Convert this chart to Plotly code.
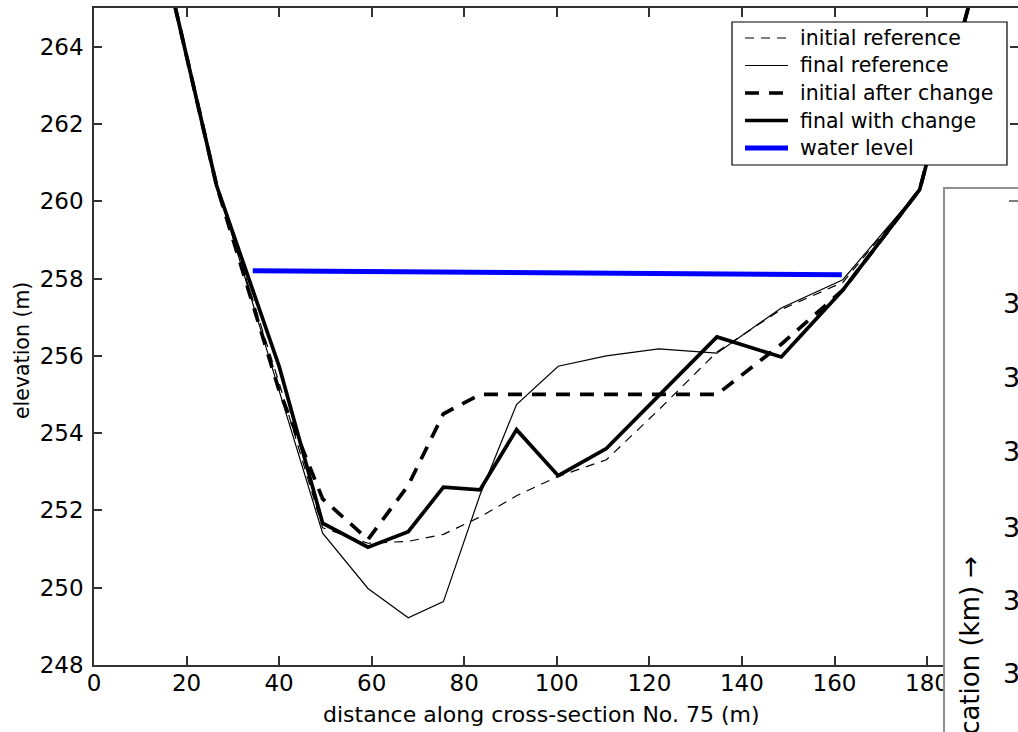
import plotly.graph_objects as go

# Stations along cross-section No. 75 (m)
station = [14, 26.5, 40, 49.4, 59.2, 67.9, 75.5, 83.4, 91.3, 100.3,
           110.7, 122, 134.6, 148.5, 161.8, 178.4, 192]

# Bed elevations (m) at each station
initial_reference = [266.85, 260.4, 255.3, 251.55, 251.15, 251.2, 251.38, 251.83, 252.38, 252.88,
                     253.31, 254.6, 256.1, 257.2, 257.9, 260.3, 266.4]
final_reference = [266.85, 260.45, 255.1, 251.41, 249.98, 249.22, 249.64, 252.4, 254.74, 255.73,
                   256.0, 256.18, 256.07, 257.24, 257.97, 260.3, 266.4]
initial_after_change = [266.85, 260.4, 255.1, 252.3, 251.25, 252.65, 254.5, 255.0, 255.0, 255.0,
                        255.0, 255.0, 255.0, 256.3, 257.7, 260.3, 266.4]
final_with_change = [266.85, 260.4, 255.73, 251.67, 251.05, 251.45, 252.6, 252.53, 254.09, 252.9,
                     253.6, 254.97, 256.49, 255.97, 257.7, 260.3, 266.4]

# Water surface
water_x = [34.3, 161.6]
water_level = [258.2, 258.1]

series_names = ["initial reference", "final reference", "initial after change",
                "final with change", "water level"]

x_ticks = [0, 20, 40, 60, 80, 100, 120, 140, 160, 180]
y_ticks = [248, 250, 252, 254, 256, 258, 260, 262, 264]

# Neighbouring panel: its axis labels and title
side_labels = ["3", "3", "3", "3", "3", "3"]
side_label_py = [303, 377, 451, 527, 600, 673]
side_title = "location (km) \u2192"

W, H = 1018, 732
L, R, T, B = 94, 1018, 8, 665
FONT = "DejaVu Sans"
AX = "#333333"

styles = [
    dict(color="black", width=1.2, dash="9px,7px"),
    dict(color="black", width=1.2),
    dict(color="black", width=3.7, dash="14px,10px"),
    dict(color="black", width=3.7),
    dict(color="#0000ff", width=5),
]


def px_x(px):
    return (px - L) / (R - L)


def px_y(py):
    return (B - py) / (B - T)


fig = go.Figure()

bed_series = [initial_reference, final_reference, initial_after_change, final_with_change]
for name, ys, st in zip(series_names[:4], bed_series, styles[:4]):
    fig.add_trace(go.Scatter(x=station, y=ys, mode="lines", name=name, line=st,
                             showlegend=False))
fig.add_trace(go.Scatter(x=water_x, y=water_level, mode="lines", name=series_names[4],
                         line=styles[4], showlegend=False))
# empty trace that carries the right-hand tick axis
fig.add_trace(go.Scatter(x=[None], y=[None], yaxis="y2", showlegend=False,
                         hoverinfo="skip"))

axis_common = dict(
    showgrid=False, zeroline=False, ticks="inside", tickcolor=AX, tickwidth=1.5,
    tickfont=dict(family=FONT, size=23, color="black"),
)

fig.update_layout(
    width=W, height=H,
    margin=dict(l=L, r=W - R, t=T, b=H - B, pad=0),
    paper_bgcolor="white", plot_bgcolor="white",
    font=dict(family=FONT, color="black"),
    xaxis=dict(range=[0, 199.65], tickvals=x_ticks, ticklen=9,
               showline=True, linecolor=AX, linewidth=1.5, mirror="ticks",
               ticklabelstandoff=-3, **axis_common),
    yaxis=dict(range=[248, 265], tickvals=y_ticks, ticklen=8,
               showline=True, linecolor=AX, linewidth=1.5, mirror=False,
               ticklabelstandoff=4, **axis_common),
    yaxis2=dict(range=[248, 265], tickvals=y_ticks, ticklen=8, overlaying="y",
                side="right", showline=False, showticklabels=False,
                showgrid=False, zeroline=False, ticks="inside",
                tickcolor=AX, tickwidth=1.5),
    showlegend=False,
)

# axis titles
fig.add_annotation(text="distance along cross-section No. 75 (m)", xref="paper", yref="paper",
                   x=px_x(541), y=px_y(714), xanchor="center", yanchor="middle",
                   showarrow=False, font=dict(family=FONT, size=22, color="black"))
fig.add_annotation(text="elevation (m)", xref="paper", yref="paper",
                   x=px_x(22), y=px_y(351), xanchor="center", yanchor="middle",
                   textangle=-90, showarrow=False,
                   font=dict(family=FONT, size=20.5, color="black"))

# legend box
fig.add_shape(type="rect", xref="paper", yref="paper",
              x0=px_x(732), x1=px_x(1007), y0=px_y(22), y1=px_y(165),
              fillcolor="white", line=dict(color="black", width=1.2), layer="above")
legend_rows = [38, 65.5, 93, 120.5, 148]
for name, st, py in zip(series_names, styles, legend_rows):
    fig.add_shape(type="line", xref="paper", yref="paper",
                  x0=px_x(745), x1=px_x(788), y0=px_y(py), y1=px_y(py),
                  line=st, layer="above")
    fig.add_annotation(text=name, xref="paper", yref="paper", x=px_x(798), y=px_y(py),
                       xanchor="left", yanchor="middle", showarrow=False,
                       font=dict(family=FONT, size=20.5, color="black"))

# neighbouring panel overlapping the right edge
fig.add_shape(type="rect", xref="paper", yref="paper",
              x0=px_x(944), x1=px_x(1040), y0=px_y(188), y1=px_y(760),
              fillcolor="white", line=dict(color="#8f8f8f", width=2), layer="above")
fig.add_shape(type="line", xref="paper", yref="paper",
              x0=px_x(1009), x1=px_x(1020), y0=px_y(201), y1=px_y(201),
              line=dict(color="#555555", width=1.5), layer="above")
for lab, py in zip(side_labels, side_label_py):
    fig.add_annotation(text=lab, xref="paper", yref="paper", x=px_x(1001), y=px_y(py),
                       xanchor="left", yanchor="middle", showarrow=False,
                       font=dict(family=FONT, size=27, color="black"))
fig.add_annotation(text=side_title, xref="paper", yref="paper", x=px_x(970), y=px_y(554),
                   xanchor="center", yanchor="top", textangle=-90, showarrow=False,
                   font=dict(family=FONT, size=26, color="black"))

fig.write_html("out.html")
